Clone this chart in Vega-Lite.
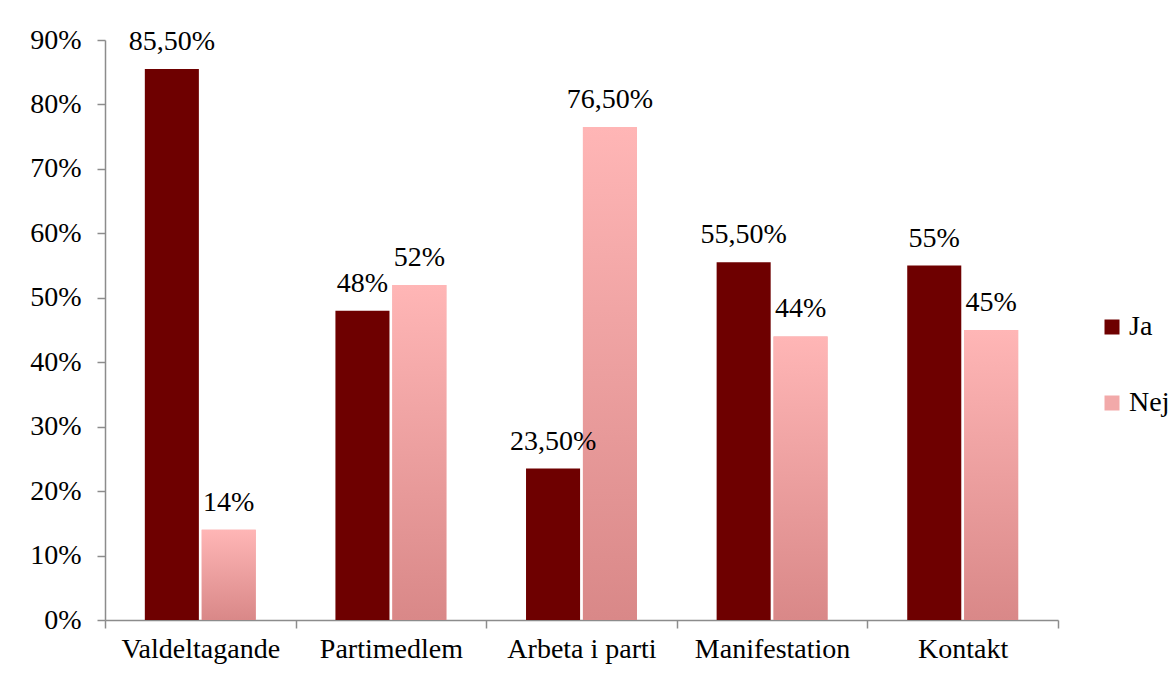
{
  "$schema": "https://vega.github.io/schema/vega-lite/v6.json",
  "width": 953,
  "height": 580,
  "autosize": "none",
  "padding": {"left": 105, "top": 40, "right": 117, "bottom": 53},
  "background": "white",
  "config": {"view": {"stroke": null}, "font": "Liberation Serif"},
  "data": {
    "values": [
      {"kategori": "Valdeltagande", "svar": "Ja", "andel": 85.5, "etikett": "85,50%"},
      {"kategori": "Valdeltagande", "svar": "Nej", "andel": 14, "etikett": "14%"},
      {"kategori": "Partimedlem", "svar": "Ja", "andel": 48, "etikett": "48%"},
      {"kategori": "Partimedlem", "svar": "Nej", "andel": 52, "etikett": "52%"},
      {"kategori": "Arbeta i parti", "svar": "Ja", "andel": 23.5, "etikett": "23,50%"},
      {"kategori": "Arbeta i parti", "svar": "Nej", "andel": 76.5, "etikett": "76,50%"},
      {"kategori": "Manifestation", "svar": "Ja", "andel": 55.5, "etikett": "55,50%"},
      {"kategori": "Manifestation", "svar": "Nej", "andel": 44, "etikett": "44%"},
      {"kategori": "Kontakt", "svar": "Ja", "andel": 55, "etikett": "55%"},
      {"kategori": "Kontakt", "svar": "Nej", "andel": 45, "etikett": "45%"}
    ]
  },
  "encoding": {
    "x": {
      "field": "kategori",
      "type": "nominal",
      "sort": ["Valdeltagande", "Partimedlem", "Arbeta i parti", "Manifestation", "Kontakt"],
      "scale": {"paddingInner": 0, "paddingOuter": 0},
      "axis": {
        "title": null,
        "labelAngle": 0,
        "labelFontSize": 28,
        "labelColor": "#000000",
        "labelPadding": 7,
        "tickBand": "extent",
        "tickSize": 8,
        "tickColor": "#8c8c8c",
        "tickWidth": 1.5,
        "domainColor": "#8c8c8c",
        "domainWidth": 1.5
      }
    },
    "xOffset": {
      "field": "svar",
      "sort": ["Ja", "Nej"],
      "scale": {"paddingInner": 0.05, "paddingOuter": 0.7}
    },
    "y": {
      "field": "andel",
      "type": "quantitative",
      "scale": {"domain": [0, 90], "nice": false},
      "axis": {
        "title": null,
        "values": [0, 10, 20, 30, 40, 50, 60, 70, 80, 90],
        "labelExpr": "datum.value + '%'",
        "grid": false,
        "labelFontSize": 28,
        "labelColor": "#000000",
        "labelPadding": 16,
        "tickSize": 8,
        "tickColor": "#8c8c8c",
        "tickWidth": 1.5,
        "domainColor": "#8c8c8c",
        "domainWidth": 1.5
      }
    }
  },
  "layer": [
    {
      "mark": {"type": "bar"},
      "encoding": {
        "color": {
          "field": "svar",
          "type": "nominal",
          "scale": {"domain": ["Ja", "Nej"], "range": ["#6e0000", "#f2a9a9"]},
          "legend": {
            "title": null,
            "orient": "none",
            "legendX": 993,
            "legendY": 273,
            "symbolType": "square",
            "symbolSize": 225,
            "symbolStrokeWidth": 0,
            "labelFontSize": 28,
            "labelColor": "#000000",
            "rowPadding": 48,
            "labelOffset": 3
          }
        }
      }
    },
    {
      "transform": [{"filter": "datum.svar === 'Nej'"}],
      "mark": {
        "type": "bar",
        "color": {
          "gradient": "linear",
          "x1": 0, "y1": 0, "x2": 0, "y2": 1,
          "stops": [
            {"offset": 0, "color": "#ffb6b6"},
            {"offset": 1, "color": "#d98888"}
          ]
        }
      }
    },
    {
      "mark": {"type": "text", "baseline": "bottom", "dy": -13, "fontSize": 28, "color": "#000000"},
      "encoding": {"text": {"field": "etikett"}}
    }
  ]
}
